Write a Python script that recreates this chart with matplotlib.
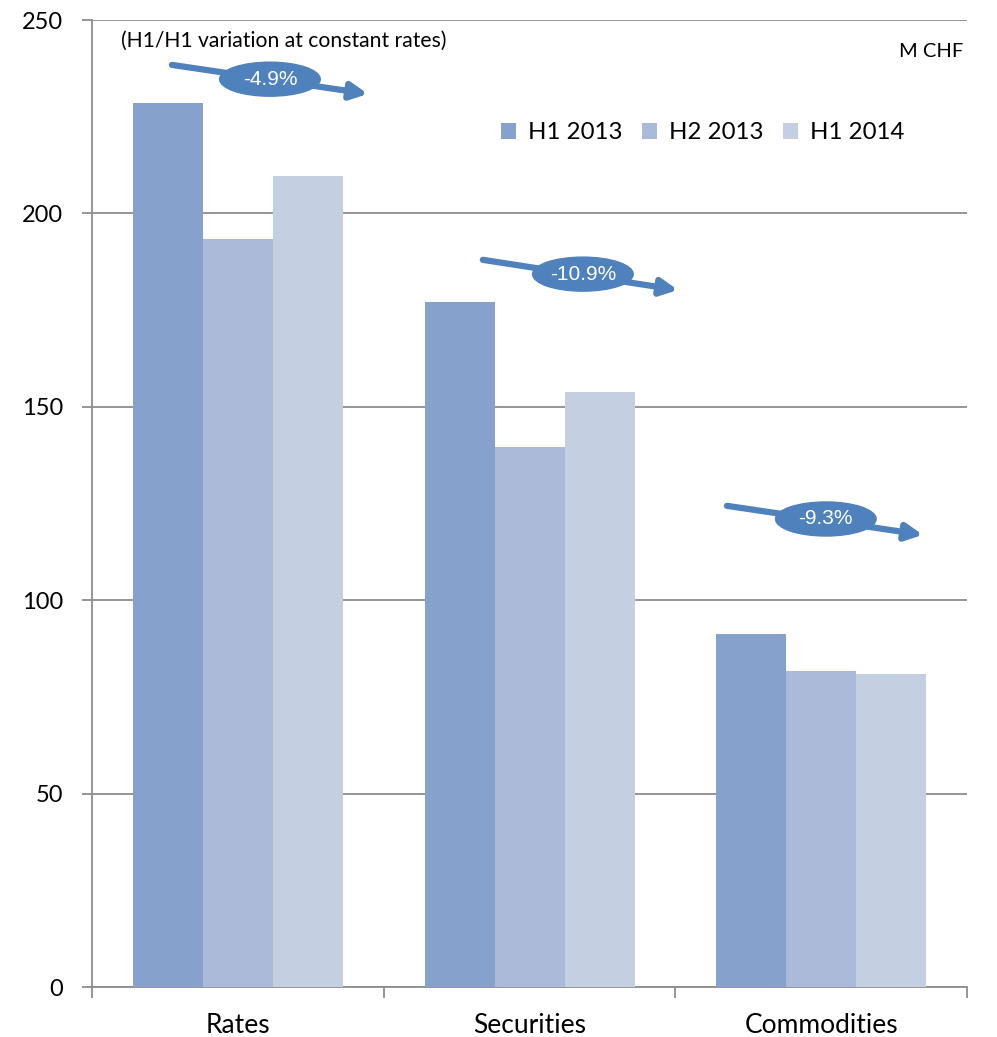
import numpy as np
import matplotlib.pyplot as plt
from matplotlib.patches import Ellipse

plt.rcParams['font.family'] = ['Lato', 'DejaVu Sans']

# Revenus par activité (M CHF)
categories = ['Rates', 'Securities', 'Commodities']
series = ['H1 2013', 'H2 2013', 'H1 2014']
h1_2013 = [228.5, 177.1, 91.3]
h2_2013 = [193.4, 139.6, 81.7]
h1_2014 = [209.7, 153.8, 80.9]
variations = ['-4.9%', '-10.9%', '-9.3%']

colors = ['#86A1CB', '#AABAD8', '#C4CFE2']
arrow_color = '#4F81BD'

fig = plt.figure(figsize=(9.97, 10.37), dpi=100)
ax = fig.add_axes([0.0923, 0.0482, 0.8776, 0.9325])

x = np.arange(len(categories))
width = 0.24
for i, (vals, name) in enumerate(zip([h1_2013, h2_2013, h1_2014], series)):
    ax.bar(x + (i - 1) * width, vals, width, color=colors[i], label=name, zorder=3)

ax.set_xlim(-0.5, 2.5)
ax.set_ylim(0, 250)
ax.set_yticks(np.arange(0, 251, 50))
ax.yaxis.grid(True, color='#8C8C8C', linewidth=1.3, zorder=0)
ax.set_xticks(x)
ax.set_xticklabels(categories, fontsize=19)
ax.set_xticks(np.arange(-0.5, 2.6, 1), minor=True)
ax.tick_params(axis='x', which='major', length=0, pad=19)
ax.tick_params(axis='x', which='minor', length=8, color='#8C8C8C', width=1.3)
ax.tick_params(axis='y', labelsize=17, length=7, color='#8C8C8C', width=1.3, pad=14)

for side in ['top', 'right']:
    ax.spines[side].set_visible(False)
for side in ['left', 'bottom']:
    ax.spines[side].set_color('#8C8C8C')
    ax.spines[side].set_linewidth(1.3)

# Flèches de variation H1/H1
arrows = [
    ((-0.226, 238.4), (0.446, 230.9), (0.110, 234.7)),
    ((0.840, 188.0), (1.509, 180.2), (1.183, 184.3)),
    ((1.677, 124.4), (2.349, 116.9), (2.016, 121.0)),
]
for (start, end, center), label in zip(arrows, variations):
    ax.annotate('', xy=end, xytext=start,
                arrowprops=dict(arrowstyle='-|>,head_length=1.0,head_width=0.5',
                                color=arrow_color, lw=4.5, shrinkA=0, shrinkB=0),
                zorder=5)
    ax.add_patch(Ellipse(center, 0.345, 8.8, color=arrow_color, zorder=6))
    ax.text(center[0], center[1], label, color='white', fontsize=15,
            family=['Liberation Sans', 'DejaVu Sans'],
            ha='center', va='center', zorder=7)

fig.text(0.285, 0.961, '(H1/H1 variation at constant rates)', fontsize=15.2,
         ha='center', va='center')
fig.text(0.966, 0.950, 'M CHF', fontsize=14.5, ha='right', va='center')

ax.legend(loc='upper left', bbox_to_anchor=(0.481, 0.903), bbox_transform=fig.transFigure,
          ncol=3, frameon=False, fontsize=17.3, handlelength=0.63, handleheight=0.63,
          handletextpad=0.5, columnspacing=0.8)

fig.savefig('out.png', dpi=100)
